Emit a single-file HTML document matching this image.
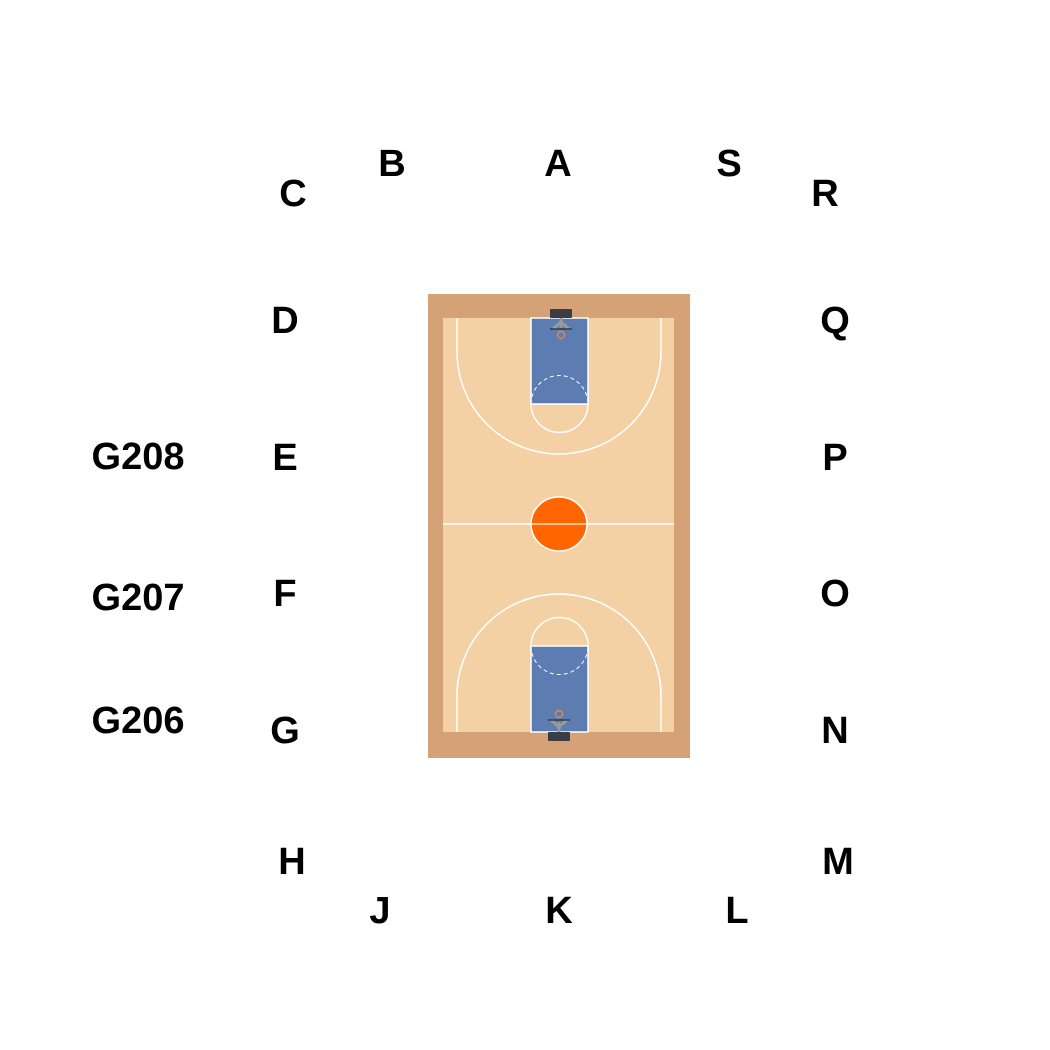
<!DOCTYPE html>
<html><head><meta charset="utf-8"><style>
html,body{margin:0;padding:0;background:#fff;width:1050px;height:1050px;overflow:hidden}
svg text{font-family:"Liberation Sans",Arial,sans-serif;font-weight:bold;font-size:38px;fill:#000;text-anchor:middle}
</style></head><body>
<svg width="1050" height="1050" viewBox="0 0 1050 1050" xmlns="http://www.w3.org/2000/svg">
<rect x="428" y="294" width="262" height="464" fill="#d4a276"/>
<rect x="443" y="318" width="231" height="414" fill="#f3d1a5"/>
<rect x="531" y="318" width="57" height="86" fill="#5d7db2" stroke="#fff" stroke-width="1.5"/>
<path d="M531 404 A28 28 0 0 0 588 404" fill="none" stroke="#fff" stroke-width="1.5"/>
<path d="M531 404 A28 28 0 0 1 588 404" fill="none" stroke="#fff" stroke-width="1" stroke-dasharray="4 3"/>
<path d="M457 318 V352 A102 102 0 0 0 661 352 V318" fill="none" stroke="#fff" stroke-width="1.5"/>
<rect x="550" y="309" width="22" height="9" rx="1" fill="#3a3d42"/>
<path d="M561 318 V328 M553 329 L561 322 L569 329" stroke="#9a9a9a" stroke-width="3" fill="none"/>
<line x1="550" y1="329" x2="572" y2="329" stroke="#3a3d42" stroke-width="1.5"/>
<circle cx="561" cy="335" r="3.5" fill="none" stroke="#d98a4a" stroke-width="1.5"/>
<rect x="531" y="646" width="57" height="86" fill="#5d7db2" stroke="#fff" stroke-width="1.5"/>
<path d="M531 646 A28 28 0 0 1 588 646" fill="none" stroke="#fff" stroke-width="1.5"/>
<path d="M531 646 A28 28 0 0 0 588 646" fill="none" stroke="#fff" stroke-width="1" stroke-dasharray="4 3"/>
<path d="M457 732 V696 A102 102 0 0 1 661 696 V732" fill="none" stroke="#fff" stroke-width="1.5"/>
<rect x="548" y="732" width="22" height="9" rx="1" fill="#3a3d42"/>
<path d="M559 732 V722 M551 720 L559 727 L567 720" stroke="#9a9a9a" stroke-width="3" fill="none"/>
<line x1="548" y1="720" x2="570" y2="720" stroke="#3a3d42" stroke-width="1.5"/>
<circle cx="559" cy="714" r="3.5" fill="none" stroke="#d98a4a" stroke-width="1.5"/>
<line x1="443" y1="524" x2="674" y2="524" stroke="#fff" stroke-width="1.5"/>
<ellipse cx="559" cy="524" rx="28" ry="27" fill="#ff6600" stroke="#fff" stroke-width="1.5"/>
<line x1="531" y1="524" x2="587" y2="524" stroke="#fde0c0" stroke-width="1.5"/>
<text x="558" y="176">A</text>
<text x="392" y="176">B</text>
<text x="729" y="176">S</text>
<text x="293" y="206">C</text>
<text x="825" y="206">R</text>
<text x="285" y="333">D</text>
<text x="835" y="333">Q</text>
<text x="285" y="470">E</text>
<text x="835" y="470">P</text>
<text x="285" y="606">F</text>
<text x="835" y="606">O</text>
<text x="285" y="743">G</text>
<text x="835" y="743">N</text>
<text x="292" y="874">H</text>
<text x="838" y="874">M</text>
<text x="380" y="923">J</text>
<text x="559" y="923">K</text>
<text x="737" y="923">L</text>
<text x="138" y="469">G208</text>
<text x="138" y="610">G207</text>
<text x="138" y="733">G206</text>
</svg>
</body></html>
